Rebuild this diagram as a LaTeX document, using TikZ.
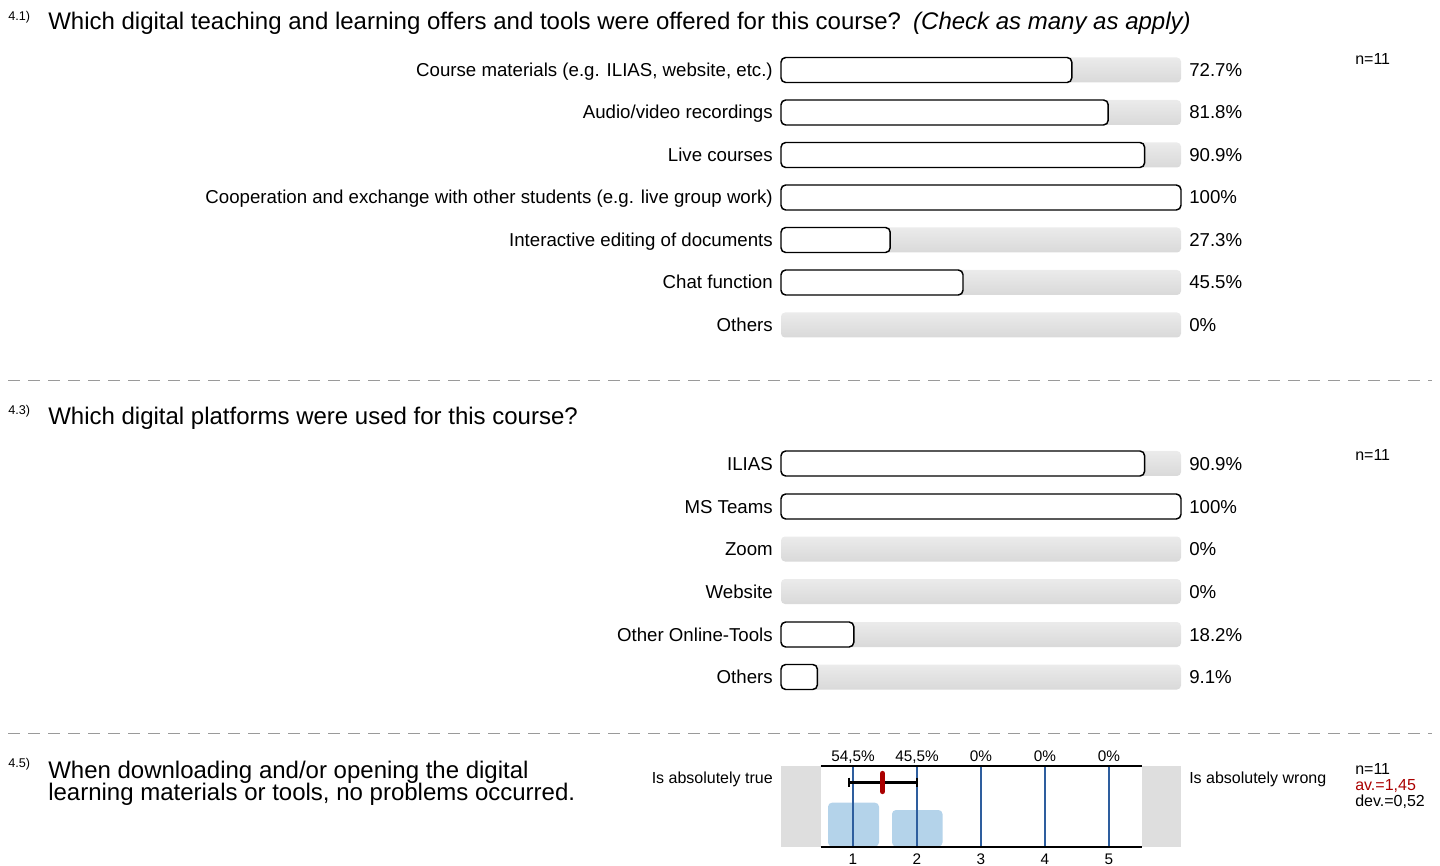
\documentclass[tikz,border=0pt]{standalone}
\usepackage{fontspec}
\setmainfont{Liberation Sans}
\definecolor{trackA}{HTML}{EBEBEB}
\definecolor{trackB}{HTML}{D9D9D9}
\definecolor{sidegray}{HTML}{DEDEDE}
\definecolor{histblue}{HTML}{B4D3EA}
\definecolor{gridblue}{HTML}{2E5E9E}
\definecolor{meanred}{HTML}{AA0000}
\definecolor{dashgray}{HTML}{9A9A9A}
\newcommand\fs[2]{\fontsize{#1}{#2}\selectfont}
\newcommand\myrow[5]{%
  \shade[trackstyle] (781,#2-12.5) rectangle (1181,#2+12.5);
  \ifdim #4pt>0pt \draw[barstyle] (781,#2-12.5) rectangle ({781+400*#4},#2+12.5);\fi
  \node[lbl] (#1-l) at (773,#2+6.5) {#3};
  \node[pct] (#1-p) at (1189,#2+6.5) {#5};
}
\begin{document}
\begin{tikzpicture}[x=0.75pt,y=-0.75pt,
  trackstyle/.style={top color=trackA,bottom color=trackB,rounded corners=3pt},
  barstyle/.style={draw=black,fill=white,line width=1.1pt,rounded corners=3.5pt},
  lbl/.style={anchor=base east,inner sep=0pt,font=\fs{14}{16}},
  pct/.style={anchor=base west,inner sep=0pt,font=\fs{14}{16}},
  qnum/.style={anchor=base west,inner sep=0pt,font=\fs{9.5}{11}},
  qtitle/.style={anchor=base west,inner sep=0pt,font=\fs{18}{20}},
  small/.style={anchor=base west,inner sep=0pt,font=\fs{12}{14}},
  sep/.style={draw=dashgray,dash pattern=on 9pt off 6pt,line width=0.6pt}]
\useasboundingbox (0,0) rectangle (1440,866);

% ---------- 4.1 ----------
\node[qnum] (q1n) at (8,21) {4.1)};
\node[qtitle] (q1t) at (48,29.5) {Which digital teaching and learning offers and tools were offered for this course?\hspace{0.5em}\textit{(Check as many as apply)}};
\node[small] (q1c) at (1355,65) {n=11};
\myrow{a1}{70}{Course materials (e.g. ILIAS, website, etc.)}{0.727}{72.7\%}
\myrow{a2}{112.5}{Audio/video recordings}{0.818}{81.8\%}
\myrow{a3}{155}{Live courses}{0.909}{90.9\%}
\myrow{a4}{197.5}{Cooperation and exchange with other students (e.g. live group work)}{1.0}{100\%}
\myrow{a5}{240}{Interactive editing of documents}{0.273}{27.3\%}
\myrow{a6}{282.5}{Chat function}{0.455}{45.5\%}
\myrow{a7}{325}{Others}{0}{0\%}

\coordinate (s1a) at (8,380);
\coordinate (s1b) at (1432,380);
\draw[sep] (s1a) -- (s1b);

% ---------- 4.3 ----------
\node[qnum] (q2n) at (8,415) {4.3)};
\node[qtitle] (q2t) at (48,424.5) {Which digital platforms were used for this course?};
\node[small] (q2c) at (1355,460) {n=11};
\myrow{b1}{463.5}{ILIAS}{0.909}{90.9\%}
\myrow{b2}{506.5}{MS Teams}{1.0}{100\%}
\myrow{b3}{549}{Zoom}{0}{0\%}
\myrow{b4}{591.5}{Website}{0}{0\%}
\myrow{b5}{634.5}{Other Online-Tools}{0.182}{18.2\%}
\myrow{b6}{677}{Others}{0.091}{9.1\%}

\coordinate (s2a) at (8,733);
\coordinate (s2b) at (1432,733);
\draw[sep] (s2a) -- (s2b);

% ---------- 4.5 ----------
\node[qnum] (q3n) at (8,767) {4.5)};
\node[qtitle] (q3t1) at (48,778) {When downloading and/or opening the digital};
\node[qtitle] (q3t2) at (48,800.5) {learning materials or tools, no problems occurred.};
\node[anchor=base east,inner sep=0pt,font=\fs{12}{14}] (lt) at (773,783.5) {Is absolutely true};
\node[small] (lw) at (1189,783.5) {Is absolutely wrong};
\node[small] (c3n) at (1355,774.5) {n=11};
\node[small,text=meanred] (c3a) at (1355,790.5) {av.=1,45};
\node[small] (c3d) at (1355,806.5) {dev.=0,52};

\fill[sidegray] (781,766) rectangle (820.5,846.5);
\fill[sidegray] (1141.5,766) rectangle (1181,846.5);
\fill[histblue,rounded corners=3pt] (828,846.5) -- (828,802.7) -- (879,802.7) -- (879,846.5) -- cycle;
\fill[histblue,rounded corners=3pt] (892,846.5) -- (892,810) -- (942.5,810) -- (942.5,846.5) -- cycle;
\foreach \k/\x/\p in {1/853/{54,5\%},2/917/{45,5\%},3/981/0\%,4/1045/0\%,5/1109/0\%}{
  \draw[gridblue,line width=0.8pt] (\x,766) -- (\x,846.5);
  \node[anchor=base,inner sep=0pt,font=\fs{11.5}{13}] (pc\k) at (\x,761) {\p};
  \node[anchor=base,inner sep=0pt,font=\fs{11.5}{13}] (sc\k) at (\x,864) {\k};
}
\draw[black,line width=1.5pt] (820.5,766) -- (1141.5,766);
\draw[black,line width=1.5pt] (820.5,846.5) -- (1141.5,846.5);
\draw[black,line width=2pt] (849,782.3) -- (916.7,782.3);
\draw[black,line width=1.5pt] (849,777.5) -- (849,787);
\draw[black,line width=1.5pt] (916.7,777.5) -- (916.7,787);
\draw[meanred,line width=4pt,line cap=round] (882.5,773.5) -- (882.5,791.5);
\end{tikzpicture}
\end{document}
